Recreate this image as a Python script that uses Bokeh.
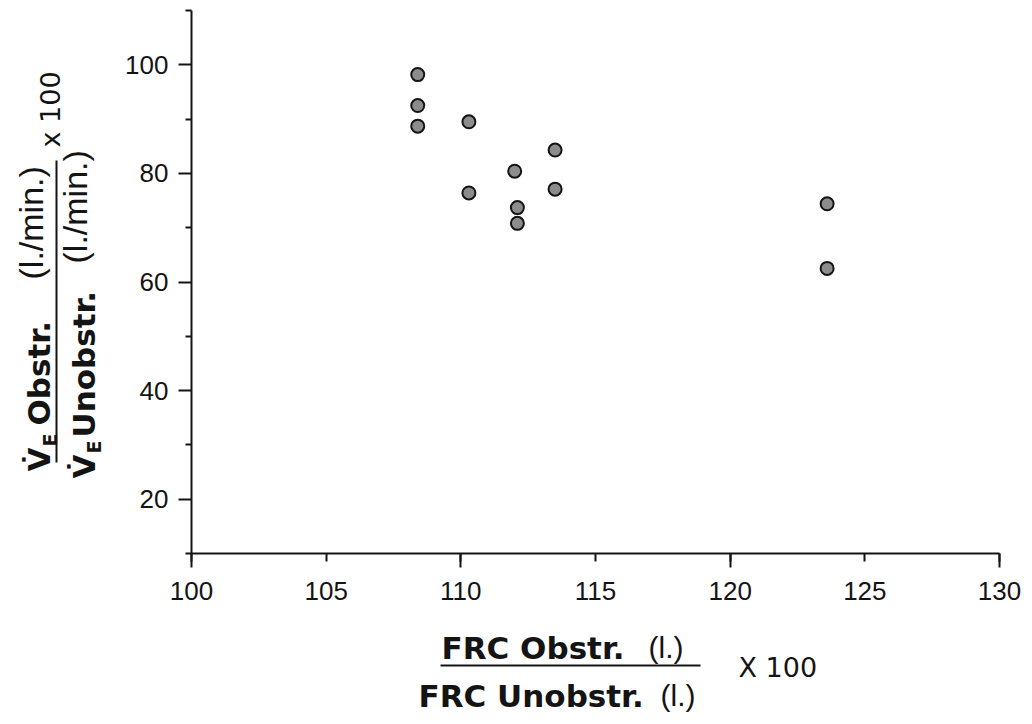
from math import pi
from bokeh.plotting import figure
from bokeh.models import Range1d, FixedTicker
from bokeh.core.properties import value
from bokeh.embed import file_html
from bokeh.resources import INLINE

# ---- data ----
frc_ratio = [108.4, 108.4, 108.4, 110.3, 110.3, 113.5, 112.0, 113.5, 112.1, 112.1, 123.6, 123.6]
ve_ratio = [98.2, 92.5, 88.7, 89.5, 76.4, 84.3, 80.4, 77.1, 73.7, 70.8, 74.4, 62.5]

x_ticks = [100, 105, 110, 115, 120, 125, 130]
x_long_ticks = [100, 110, 120, 130]
y_ticks = [20, 40, 60, 80, 100]
y_minor_ticks = [10, 30, 50, 70, 90, 110]

X0, X1 = 100, 130
Y0, Y1 = 10, 110

# ---- layout (canvas pixels) ----
W, H = 1030, 722
SX, SY = 26.933, 5.43       # pixels per data unit
PX0, PY1 = 191, 10          # pixel of x=100, pixel of y=110
INK = "#141414"

x_range = Range1d(X0 - PX0 / SX, X0 + (W - PX0) / SX)
y_range = Range1d(Y1 - (H - PY1) / SY, Y1 + PY1 / SY)

p = figure(width=W, height=H, x_range=x_range, y_range=y_range,
           output_backend="svg", toolbar_location=None, min_border=0)
p.outline_line_color = None
p.xgrid.visible = False
p.ygrid.visible = False
p.background_fill_color = "white"
p.border_fill_color = "white"

xa = p.xaxis[0]
xa.fixed_location = Y0
xa.bounds = (X0, X1)
xa.ticker = FixedTicker(ticks=x_ticks, minor_ticks=x_long_ticks)
xa.major_tick_in = 0
xa.major_tick_out = 8
xa.minor_tick_in = 0
xa.minor_tick_out = 14
xa.major_label_standoff = 14

ya = p.yaxis[0]
ya.fixed_location = X0
ya.bounds = (Y0, Y1)
ya.ticker = FixedTicker(ticks=y_ticks, minor_ticks=y_minor_ticks)
ya.major_tick_in = 0
ya.major_tick_out = 13
ya.minor_tick_in = 0
ya.minor_tick_out = 6
ya.major_label_standoff = 10

for ax in (xa, ya):
    ax.axis_line_width = 2
    ax.axis_line_color = INK
    ax.major_tick_line_width = 2
    ax.major_tick_line_color = INK
    ax.minor_tick_line_width = 2
    ax.minor_tick_line_color = INK
    ax.major_label_text_font = "Liberation Sans"
    ax.major_label_text_font_size = "26px"
    ax.major_label_text_color = INK

p.scatter(frc_ratio, ve_ratio, marker="circle", size=13,
          fill_color="#8c8c8c", line_color=INK, line_width=2)


# canvas pixel -> data coordinates (for the axis-title texts)
def dx(px):
    return X0 + (px - PX0) / SX


def dy(py):
    return Y1 - (py - PY1) / SY


TF = "DejaVu Sans"      # title font
LF = "Liberation Sans"  # units font
# observed downward shift of the rendered baseline, as a fraction of font size
SHIFT = {TF: 0.40, LF: 0.34}


def txt(s, px, py, font, size, style="normal", rotated=False):
    k = SHIFT[font] * size
    if rotated:
        px, angle = px - k, pi / 2
    else:
        py, angle = py - k, 0.0
    p.text(x=[dx(px)], y=[dy(py)], text=[s], angle=angle,
           text_font=value(font), text_font_size=value(f"{size}px"),
           text_font_style=value(style), text_color=INK,
           text_align="left", text_baseline="alphabetic")


def seg(px0, py0, px1, py1, w=2):
    p.segment(x0=[dx(px0)], y0=[dy(py0)], x1=[dx(px1)], y1=[dy(py1)],
              line_color=INK, line_width=w)


# x-axis title (fraction); positions are baseline-left points in pixels
txt("FRC Obstr.", 441, 660, TF, 31, "bold")
txt("(l.)", 648, 657, LF, 30)
seg(440, 665, 700, 665)
txt("X 100", 738, 678, TF, 27)
txt("FRC Unobstr.", 418, 708, TF, 31, "bold")
txt("(l.)", 660, 705, LF, 30)

# y-axis title (rotated fraction, reading upwards); x = baseline, y = start
txt("V\u0307", 51, 471, TF, 31, "bold", True)
txt("E", 57, 446, TF, 19, "bold", True)
txt("Obstr.", 51, 425, TF, 31, "bold", True)
txt("(l./min.)", 42, 279, LF, 34, "normal", True)
seg(56, 160, 56, 462)
txt("x 100", 61, 147, TF, 27, "normal", True)
txt("V\u0307", 96, 478, TF, 31, "bold", True)
txt("E", 101, 453, TF, 19, "bold", True)
txt("Unobstr.", 96, 437, TF, 31, "bold", True)
txt("(l./min.)", 86, 263, LF, 34, "normal", True)

open("out.html", "w").write(file_html(p, INLINE))
